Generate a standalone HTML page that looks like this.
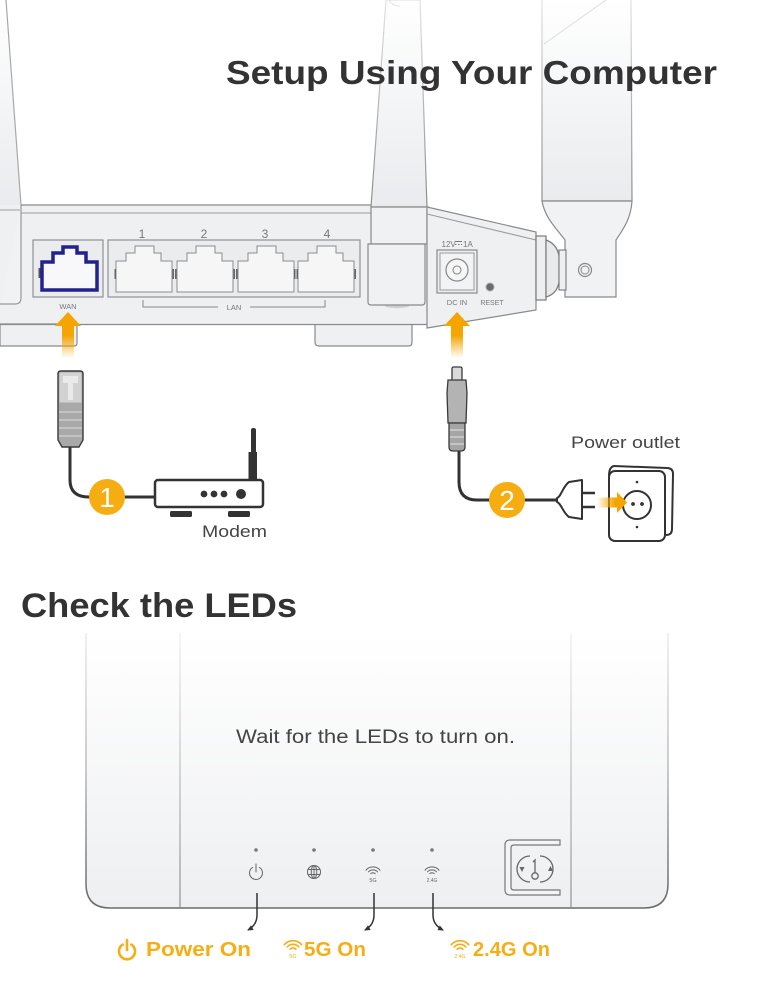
<!DOCTYPE html>
<html><head><meta charset="utf-8"><title>Setup</title>
<style>
html,body{margin:0;padding:0;background:#fff;width:761px;height:995px;overflow:hidden}
svg{display:block}
text{font-family:"Liberation Sans",Arial,sans-serif}
</style></head><body>
<svg width="761" height="995" viewBox="0 0 761 995" xmlns="http://www.w3.org/2000/svg">
<defs>
<linearGradient id="antG" x1="0" y1="0" x2="0" y2="1"><stop offset="0" stop-color="#ffffff"/><stop offset="1" stop-color="#e9ebee"/></linearGradient>
<linearGradient id="antS" x1="0" y1="0" x2="0" y2="1"><stop offset="0" stop-color="#e2e2e2"/><stop offset="1" stop-color="#8c8c8c"/></linearGradient>
<linearGradient id="upA" gradientUnits="userSpaceOnUse" x1="0" y1="312" x2="0" y2="358"><stop offset="0" stop-color="#f5a400"/><stop offset="0.5" stop-color="#f5a400"/><stop offset="1" stop-color="#f5a400" stop-opacity="0"/></linearGradient>
<linearGradient id="rtA" gradientUnits="userSpaceOnUse" x1="597" y1="0" x2="627" y2="0"><stop offset="0" stop-color="#f5a400" stop-opacity="0"/><stop offset="0.6" stop-color="#f5a400"/><stop offset="1" stop-color="#f5a400"/></linearGradient>
<linearGradient id="panF" gradientUnits="userSpaceOnUse" x1="0" y1="633" x2="0" y2="908"><stop offset="0" stop-color="#ffffff"/><stop offset="1" stop-color="#eeeff1"/></linearGradient>
<linearGradient id="panS" gradientUnits="userSpaceOnUse" x1="0" y1="633" x2="0" y2="908"><stop offset="0" stop-color="#ececec"/><stop offset="0.5" stop-color="#bdbdbd"/><stop offset="1" stop-color="#6a6a6a"/></linearGradient>
<linearGradient id="divS" gradientUnits="userSpaceOnUse" x1="0" y1="633" x2="0" y2="908"><stop offset="0" stop-color="#eeeeee"/><stop offset="1" stop-color="#8e8e8e"/></linearGradient>
<marker id="ah" viewBox="0 0 6 6" markerWidth="6" markerHeight="6" refX="5" refY="3" orient="auto" markerUnits="userSpaceOnUse"><path d="M0,0.3 L6,3 L0,5.7 Z" fill="#333"/></marker>
<g id="wf" fill="none" stroke-linecap="round">
 <path d="M-2.3,-2.3 A3.2,3.2 0 0 1 2.3,-2.3"/>
 <path d="M-4.6,-4.1 A6.2,6.2 0 0 1 4.6,-4.1"/>
 <path d="M-7,-5.8 A9.1,9.1 0 0 1 7,-5.8"/>
</g>
</defs>

<!-- ===== Router back ===== -->
<!-- left antenna -->
<path d="M0,0 L6,0 L21,205 L0,205 Z" fill="url(#antG)"/>
<path d="M6,0 L21,205" stroke="#a8a8a8" stroke-width="1.2" fill="none"/>

<!-- body -->
<rect x="0" y="205" width="430" height="120" fill="#eff0f2"/>
<path d="M0,324 H77 V343 Q77,346 74,346 H0 Z" fill="#eff0f2" stroke="#8a8a8a" stroke-width="1.2"/>
<path d="M315,324 V342 Q315,346 319,346 H409 Q412,346 412,342 V324" fill="#eff0f2" stroke="#8a8a8a" stroke-width="1.2"/>
<path d="M0,324.5 H430" stroke="#8a8a8a" stroke-width="1.3"/>
<path d="M21,205 H371" stroke="#8a8a8a" stroke-width="1.3"/>
<path d="M21,213 H371" stroke="#9c9c9c" stroke-width="1"/>
<path d="M0,210 H21" stroke="#9c9c9c" stroke-width="1"/>
<path d="M21,205 V298 Q21,304 15,304 H0" stroke="#9a9a9a" stroke-width="1.2" fill="#f1f2f4"/>

<!-- WAN box -->
<rect x="33" y="240" width="70" height="57" fill="#ebecee" stroke="#8f9194" stroke-width="1.2"/>
<rect x="38.5" y="268" width="2.5" height="10" fill="#555"/>
<rect x="96" y="268" width="2.5" height="10" fill="#555"/>
<path d="M42,290 V262 H53 V253 H63 V247 H77 V253 H86 V262 H97 V290 Z" fill="#f8f8fa" stroke="#22228c" stroke-width="3.5" stroke-linejoin="miter"/>
<text x="68" y="309" font-size="7.5" fill="#777" text-anchor="middle">WAN</text>

<!-- LAN box -->
<rect x="108" y="240" width="252" height="57" fill="#ebecee" stroke="#8f9194" stroke-width="1.2"/>
<g fill="#f6f6f7" stroke="#8a8c8f" stroke-width="1">
 <path transform="translate(116,0)" d="M0,292 V261 H10 V253 H19 V246 H38 V253 H45 V261 H56 V292 Z"/>
 <path transform="translate(177,0)" d="M0,292 V261 H10 V253 H19 V246 H38 V253 H45 V261 H56 V292 Z"/>
 <path transform="translate(238,0)" d="M0,292 V261 H10 V253 H19 V246 H38 V253 H45 V261 H56 V292 Z"/>
 <path transform="translate(298,0)" d="M0,292 V261 H10 V253 H19 V246 H38 V253 H45 V261 H56 V292 Z"/>
</g>
<g fill="#666">
 <rect x="114.5" y="269" width="1.5" height="10"/>
 <rect x="172.5" y="269" width="1.5" height="10"/><rect x="175" y="269" width="1.5" height="10"/>
 <rect x="233.5" y="269" width="1.5" height="10"/><rect x="236" y="269" width="1.5" height="10"/>
 <rect x="294" y="269" width="1.5" height="10"/><rect x="296.5" y="269" width="1.5" height="10"/>
 <rect x="354.5" y="269" width="1.5" height="10"/>
</g>
<g font-size="12" fill="#777" text-anchor="middle">
 <text x="142" y="238">1</text><text x="204" y="238">2</text><text x="265" y="238">3</text><text x="327" y="238">4</text>
</g>
<path d="M143,300 V307 H218 M250,307 H325 V300" stroke="#888" stroke-width="1" fill="none"/>
<text x="234" y="310" font-size="7.5" fill="#777" text-anchor="middle">LAN</text>

<!-- middle antenna -->
<path d="M386,0 L420,0 L427,207 L371,207 Z" fill="url(#antG)" stroke="url(#antS)" stroke-width="1.2"/>
<path d="M389,0 Q392,6 400,6" stroke="#e6e6e6" fill="none"/>
<path d="M371,207 H427 V244 H371 Z" fill="#f0f1f3" stroke="#8a8a8a" stroke-width="1.2"/>
<ellipse cx="397" cy="306" rx="12" ry="2.2" fill="#cfd0d2"/>
<path d="M368,244 H425 V302 Q425,305 422,305 H371 Q368,305 368,302 Z" fill="#f0f1f3" stroke="#8a8a8a" stroke-width="1.2"/>

<!-- angled side panel -->
<path d="M427,207 L536,232 L536,310 L427,328 Z" fill="#eff0f2" stroke="#8a8a8a" stroke-width="1.2"/>
<path d="M427,214 L536,240" stroke="#9a9a9a" stroke-width="1"/>
<!-- DC jack -->
<text x="441.5" y="247" font-size="8" fill="#777">12V</text>
<path d="M455,241.5 H462 M455,244.5 H456.5 M458,244.5 H459.5 M461,244.5 H462" stroke="#777" stroke-width="0.9"/>
<text x="463" y="247" font-size="8" fill="#777">1A</text>
<rect x="437" y="250" width="40" height="43" fill="#eceded" stroke="#8a8a8a" stroke-width="1.2"/>
<rect x="440" y="253" width="34" height="37" fill="#f2f3f4" stroke="#9a9a9a" stroke-width="1"/>
<circle cx="457" cy="270" r="11" fill="#f6f6f7" stroke="#888" stroke-width="1.2"/>
<circle cx="457" cy="270" r="4" fill="none" stroke="#888" stroke-width="1.1"/>
<circle cx="490" cy="287" r="4" fill="#6a6a6a" stroke="#aaa" stroke-width="1"/>
<text x="457" y="305" font-size="7.5" fill="#777" text-anchor="middle">DC IN</text>
<text x="492" y="305" font-size="7" fill="#777" text-anchor="middle">RESET</text>

<!-- right antenna -->
<path d="M542,0 L631,0 L632,201 L542,201 Z" fill="url(#antG)"/>
<path d="M542,0 L542,201 M631,0 L632,201" stroke="url(#antS)" stroke-width="1.2"/>
<path d="M544,44 L606,0" stroke="#dddddd" stroke-width="1"/>
<path d="M542,201 H632" stroke="#8a8a8a" stroke-width="1.2"/>
<path d="M542,201 C545,218 556,228 565,240 L565,297 L616,297 L616,240 C624,228 631,218 632,201 Z" fill="#f1f2f4" stroke="#8a8a8a" stroke-width="1.2"/>
<circle cx="585" cy="270" r="6.5" fill="none" stroke="#888" stroke-width="1.2"/>
<circle cx="585" cy="270" r="4" fill="none" stroke="#888" stroke-width="1"/>
<!-- joint -->
<rect x="536" y="236" width="10" height="64" fill="#eeeff1" stroke="#7a7a7a" stroke-width="1.2"/>
<path d="M546,240 Q557,244 559,256 V282 Q557,294 546,297 Z" fill="#e9eaec" stroke="#7a7a7a" stroke-width="1.2"/>
<rect x="559" y="250" width="7" height="40" fill="#eeeff1" stroke="#7a7a7a" stroke-width="1.1"/>

<!-- orange up arrows -->
<path d="M68,312 L81,326 L74,326 L74,358 L62,358 L62,326 L55,326 Z" fill="url(#upA)"/>
<path d="M457,312 L470,326 L463,326 L463,358 L451,358 L451,326 L444,326 Z" fill="url(#upA)"/>

<!-- Title -->
<text x="226" y="84" font-size="33" font-weight="bold" fill="#333" textLength="491" lengthAdjust="spacingAndGlyphs">Setup Using Your Computer</text>

<!-- ===== Connection step 1 ===== -->
<path d="M70,446 L70,480 Q70,497 89,497 L157,497" stroke="#333" stroke-width="3" fill="none" stroke-linecap="round"/>
<path d="M58,374 Q58,371 61,371 L80,371 Q83,371 83,374 L83,440 L79,447 L62,447 L58,440 Z" fill="#a9a9a9" stroke="#3a3a3a" stroke-width="1.4"/>
<rect x="59.5" y="372.5" width="22" height="30" fill="#d2d2d2"/>
<rect x="63" y="376" width="15" height="7" fill="#eaeaea"/>
<rect x="68" y="383" width="5" height="17" fill="#eaeaea"/>
<path d="M59,412 H82 M59,420 H82 M59,428 H82 M59,436 H82" stroke="#cbcbcb" stroke-width="1.5"/>
<circle cx="107" cy="497" r="18" fill="#f5ad12"/>
<text x="107" y="507" font-size="28" fill="#fff" text-anchor="middle">1</text>
<!-- modem -->
<path d="M251,453 V430 Q251,428 253.5,428 Q256,428 256,430 V453 Z" fill="#333"/>
<rect x="248.5" y="452" width="8.5" height="29" fill="#333"/>
<rect x="155" y="480" width="108" height="27" rx="3" fill="#fff" stroke="#333" stroke-width="2.5"/>
<circle cx="204" cy="494" r="3.4" fill="#333"/>
<circle cx="214" cy="494" r="3.4" fill="#333"/>
<circle cx="224" cy="494" r="3.4" fill="#333"/>
<circle cx="241" cy="494" r="5" fill="#333"/>
<rect x="170" y="511" width="22" height="6" rx="1.5" fill="#333"/>
<rect x="228" y="511" width="22" height="6" rx="1.5" fill="#333"/>
<text x="202" y="537" font-size="17" fill="#444" textLength="65" lengthAdjust="spacingAndGlyphs">Modem</text>

<!-- ===== Connection step 2 ===== -->
<path d="M459,449 L459,482 Q459,500 477,500 L560,500" stroke="#333" stroke-width="3" fill="none" stroke-linecap="round"/>
<rect x="452" y="367" width="10" height="14" rx="1.5" fill="#dadada" stroke="#3a3a3a" stroke-width="1.3"/>
<path d="M448,380 H466 L467,393 L466,423 H448 L447,393 Z" fill="#b3b3b3" stroke="#3a3a3a" stroke-width="1.3"/>
<path d="M449,423 H465 V447 Q465,451 461,451 H453 Q449,451 449,447 Z" fill="#a5a5a5" stroke="#3a3a3a" stroke-width="1.3"/>
<path d="M450,430 H464 M450,437 H464 M450,444 H464" stroke="#d0d0d0" stroke-width="1.4"/>
<circle cx="507" cy="500" r="18" fill="#f5ad12"/>
<text x="507" y="510" font-size="28" fill="#fff" text-anchor="middle">2</text>
<path d="M557,498 C561,497 563,486 569,482 L582,480 V519 L569,517 C563,513 561,503 557,502 Z" fill="#fff" stroke="#333" stroke-width="2" stroke-linejoin="round"/>
<path d="M582,493 H595 M582,507 H595" stroke="#333" stroke-width="2.6"/>
<text x="571" y="448" font-size="16.5" fill="#444" textLength="109" lengthAdjust="spacingAndGlyphs">Power outlet</text>
<!-- outlet -->
<path d="M614,466 L667,468 Q673,468 673,474 L672,529 Q672,535 666,535" fill="#fff" stroke="#333" stroke-width="2"/>
<rect x="609" y="471" width="56" height="70" rx="6" fill="#fff" stroke="#333" stroke-width="2"/>
<path d="M614,466 Q609,467 609,476" fill="none" stroke="#333" stroke-width="2"/>
<circle cx="637" cy="505" r="14" fill="#fff" stroke="#333" stroke-width="2"/>
<circle cx="633" cy="504" r="1.9" fill="#333"/>
<circle cx="642" cy="504" r="1.9" fill="#333"/>
<circle cx="637" cy="482" r="1.3" fill="#333"/>
<circle cx="637" cy="527" r="1.3" fill="#333"/>
<path d="M597,497.5 H617 V492 L627,502.5 L617,513 V507.5 H597 Z" fill="url(#rtA)"/>

<!-- ===== Check the LEDs ===== -->
<text x="21" y="617" font-size="34" font-weight="bold" fill="#333" textLength="276" lengthAdjust="spacingAndGlyphs">Check the LEDs</text>

<path d="M86,633 V884 Q86,908 110,908 H644 Q668,908 668,884 V633" fill="url(#panF)" stroke="url(#panS)" stroke-width="1.6"/>
<path d="M180,633 V907 M571,633 V907" stroke="url(#divS)" stroke-width="1.2"/>

<text x="236" y="743" font-size="19" fill="#444" textLength="279" lengthAdjust="spacingAndGlyphs">Wait for the LEDs to turn on.</text>

<!-- LED dots -->
<g fill="#777">
 <circle cx="256" cy="850" r="1.8"/><circle cx="314" cy="850" r="1.8"/><circle cx="373" cy="850" r="1.8"/><circle cx="432" cy="850" r="1.8"/>
</g>
<!-- LED icons -->
<g stroke="#666" stroke-width="1" fill="none" stroke-linecap="round">
 <path d="M252.6,867.4 A6.5,6.5 0 1 0 259.4,867.4"/>
 <path d="M256,864 V872"/>
 <circle cx="314" cy="872" r="6.5"/>
 <ellipse cx="314" cy="872" rx="2.8" ry="6.5"/>
 <path d="M314,865.5 V878.5 M308,869.5 H320 M308,874.5 H320"/>
</g>
<use href="#wf" x="373" y="876" stroke="#666" stroke-width="1"/>
<text x="373" y="882" font-size="5.5" fill="#666" text-anchor="middle">5G</text>
<use href="#wf" x="432" y="876" stroke="#666" stroke-width="1"/>
<text x="432" y="882" font-size="5" fill="#666" text-anchor="middle">2.4G</text>

<!-- key button -->
<path d="M560,840 H510 Q505,840 505,845 V890 Q505,895 510,895 H560 V890 H514 Q511,890 511,887 V848 Q511,845 514,845 H560 Z" fill="#f3f4f5" stroke="#777" stroke-width="1.2"/>
<g stroke="#666" stroke-width="1.3" fill="none">
 <path d="M530,856 A13,13 0 0 0 530,882"/>
 <path d="M540,882 A13,13 0 0 0 540,856"/>
 <circle cx="535" cy="876" r="3.2"/>
 <path d="M535,872.8 V860 L533,862"/>
</g>
<path d="M519.5,867 L522,872 L524.5,867 Z" fill="#666"/>
<path d="M548,871 L550.5,866 L553,871 Z" fill="#666"/>

<!-- pointer arrows -->
<g stroke="#333" stroke-width="1.5" fill="none">
 <path d="M257,893 V915 Q257,925 248,930" marker-end="url(#ah)"/>
 <path d="M374,893 V915 Q374,925 365,930" marker-end="url(#ah)"/>
 <path d="M433,893 V915 Q433,925 443,930" marker-end="url(#ah)"/>
</g>

<!-- LED labels -->
<g stroke="#f5ae14" stroke-width="2.6" fill="none" stroke-linecap="round">
 <path d="M122.6,944.6 A8,8 0 1 0 131.4,944.6"/>
 <path d="M127,940 V950"/>
</g>
<text x="146" y="956" font-size="20" font-weight="bold" fill="#f5ae14" textLength="105" lengthAdjust="spacingAndGlyphs">Power On</text>
<use href="#wf" transform="translate(293,952) scale(1.25)" stroke="#f5ae14" stroke-width="1.3"/>
<text x="293" y="958" font-size="5.5" fill="#f5ae14" text-anchor="middle">5G</text>
<text x="304" y="956" font-size="20" font-weight="bold" fill="#f5ae14" textLength="62" lengthAdjust="spacingAndGlyphs">5G On</text>
<use href="#wf" transform="translate(460,952) scale(1.25)" stroke="#f5ae14" stroke-width="1.3"/>
<text x="460" y="958" font-size="5" fill="#f5ae14" text-anchor="middle">2.4G</text>
<text x="473" y="956" font-size="20" font-weight="bold" fill="#f5ae14" textLength="77" lengthAdjust="spacingAndGlyphs">2.4G On</text>
</svg>
</body></html>
